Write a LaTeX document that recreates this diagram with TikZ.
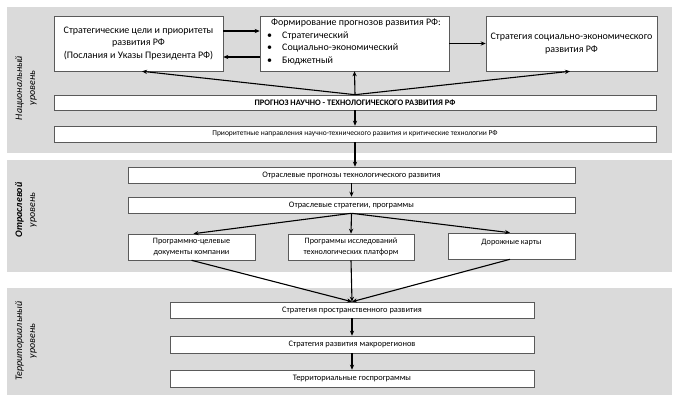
\documentclass[tikz,border=0pt]{standalone}
\usepackage{fontspec}
\setmainfont{Carlito}
\usetikzlibrary{arrows.meta}
\definecolor{panelgray}{RGB}{218,218,218}
\definecolor{boxline}{RGB}{90,90,90}
\tikzset{
  panel/.style={fill=panelgray, draw=none},
  box/.style={draw=boxline, line width=0.6pt, fill=white, inner sep=0pt, align=center},
  arr/.style={line width=1.1pt, -{Stealth[length=5pt,width=4.2pt]}},
  lvl/.style={rotate=90, align=center, inner sep=0pt, font=\fontsize{10}{13}\selectfont\itshape},
}
\begin{document}
\begin{tikzpicture}[x=1pt,y=-1pt]
\useasboundingbox (0,0) rectangle (680,401);
\fill[white] (0,0) rectangle (680,401);
% panels
\fill[panel] (7,7) rectangle (672,153);
\fill[panel] (7,160) rectangle (672,272);
\fill[panel] (7,288) rectangle (672,395);
% level labels
\node[lvl] (l1) at (26,88) {Национальный\\уровень};
\node[lvl] (l2) at (26,210) {{\bfseries Отраслевой}\\уровень};
\node[lvl] (l3) at (26,341) {Территориальный\\уровень};
% national level
\node[box, minimum width=169pt, minimum height=55pt, font=\fontsize{10}{12.2}\selectfont] (A) at (138.5,43.5)
  {Стратегические цели и приоритеты\\развития РФ\\(Послания и Указы Президента РФ)};
\node[box, minimum width=189pt, minimum height=55pt] (B) at (354.5,43.5) {};
\node[anchor=north west, inner sep=0pt, align=left, font=\fontsize{10}{12.4}\selectfont] (Bt) at (271,19)
  {Формирование прогнозов развития РФ:\\
   \makebox[0pt][l]{\hspace*{-4pt}•}\hspace*{11pt}Стратегический\\
   \makebox[0pt][l]{\hspace*{-4pt}•}\hspace*{11pt}Социально-экономический\\
   \makebox[0pt][l]{\hspace*{-4pt}•}\hspace*{11pt}Бюджетный};
\node[box, minimum width=171pt, minimum height=55pt, font=\fontsize{10}{12.2}\selectfont] (C) at (571.5,43.5)
  {Стратегия социально-экономического\\развития РФ};
\node[box, minimum width=602pt, minimum height=15pt, font=\fontsize{8.4}{9}\selectfont\bfseries] (D) at (355,102.5)
  {ПРОГНОЗ НАУЧНО - ТЕХНОЛОГИЧЕСКОГО РАЗВИТИЯ РФ};
\node[box, minimum width=602pt, minimum height=16pt, font=\fontsize{7.5}{8}\selectfont] (E) at (355,134)
  {Приоритетные направления научно-технического развития и критические технологии РФ};
% sector level
\node[box, minimum width=447pt, minimum height=16pt, font=\fontsize{8.4}{9}\selectfont] (F) at (351.5,175)
  {Отраслевые прогнозы технологического развития};
\node[box, minimum width=447pt, minimum height=16pt, font=\fontsize{8.4}{9}\selectfont] (G) at (351.5,205)
  {Отраслевые стратегии, программы};
\node[box, minimum width=127pt, minimum height=26pt, font=\fontsize{8.2}{11}\selectfont] (H) at (191.5,247)
  {Программно-целевые\\документы компании};
\node[box, minimum width=126pt, minimum height=26pt, font=\fontsize{8.2}{11}\selectfont] (I) at (351,247)
  {Программы исследований\\технологических платформ};
\node[box, minimum width=127pt, minimum height=26pt] (J) at (511.5,246) {};
\node[font=\fontsize{8.2}{9}\selectfont, inner sep=0pt] (Jt) at (511.5,242.5) {Дорожные карты};
% territorial level
\node[box, minimum width=364pt, minimum height=16pt, font=\fontsize{8.4}{9}\selectfont] (K) at (352,310)
  {Стратегия пространственного развития};
\node[box, minimum width=364pt, minimum height=17pt, font=\fontsize{8.4}{9}\selectfont] (L) at (352,344.5)
  {Стратегия развития макрорегионов};
\node[box, minimum width=364pt, minimum height=17pt, font=\fontsize{8.4}{9}\selectfont] (M) at (352,378.5)
  {Территориальные госпрограммы};
% connectors national
\draw[arr] ([yshift=12.5pt]A.east) -- ([yshift=12.5pt]B.west);
\draw[arr] ([yshift=-13.5pt]B.west) -- ([yshift=-13.5pt]A.east);
\draw[arr] (B.east) -- (C.west);
\draw[arr] (D.north) -- (B.south);
\draw[arr] (D.north) -- ([xshift=3.5pt]A.south);
\draw[arr] (D.north) -- ([xshift=-1.5pt]C.south);
\draw[arr] (D.south) -- (E.north);
\draw[arr] (E.south) -- (E.south |- F.north);
% sector
\draw[arr] (F.south) -- (G.north);
\draw[arr] (G.south) -- ([xshift=2pt]H.north);
\draw[arr] (G.south) -- (I.north);
\draw[arr] (G.south) -- ([xshift=-1.5pt]J.north);
% into territorial
\draw[arr] (H.south) -- (K.north);
\draw[arr] (I.south) -- (K.north);
\draw[arr] ([xshift=-1.5pt]J.south) -- (K.north);
\draw[arr] (K.south) -- (L.north);
\draw[arr] (L.south) -- (M.north);
\end{tikzpicture}
\end{document}
